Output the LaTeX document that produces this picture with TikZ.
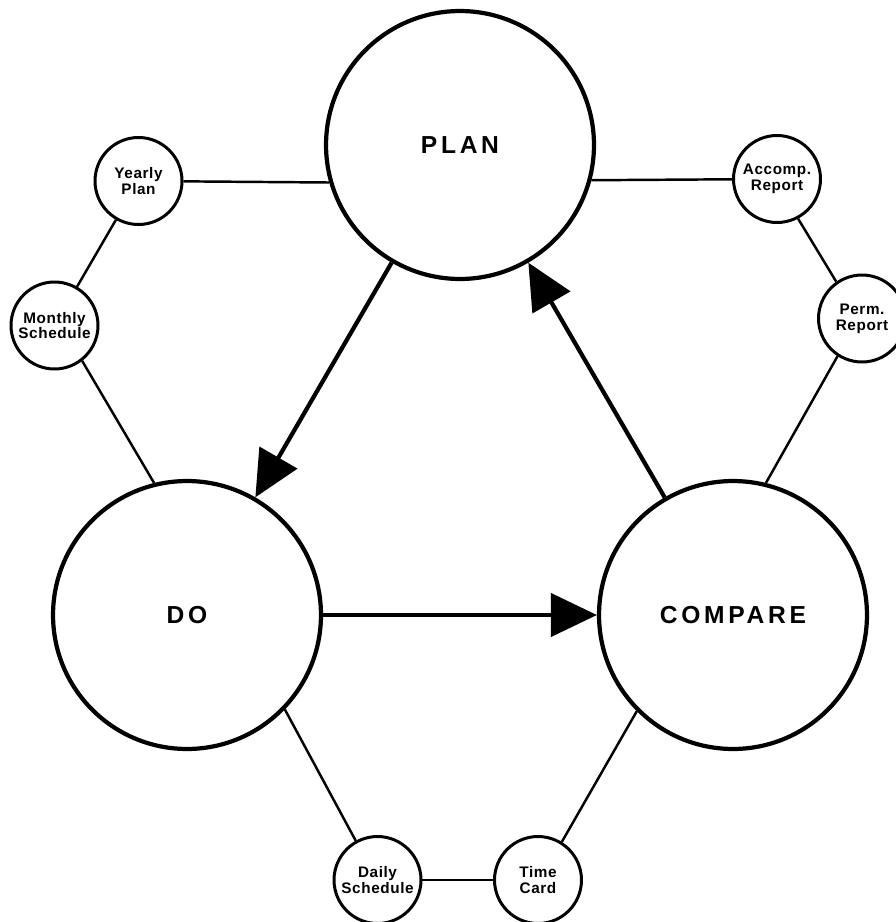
\documentclass[tikz,border=0pt]{standalone}
\usepackage{fontspec}
\setmainfont{Liberation Sans}
\newfontfamily\bigletters[LetterSpace=15]{Liberation Sans}
\newfontfamily\smallletters[LetterSpace=4]{Liberation Sans}
\usetikzlibrary{arrows.meta}

\begin{document}
\begin{tikzpicture}[x=0.02cm,y=-0.02cm,
	big/.style={circle,draw,line width=2.4pt,minimum size=5.36cm,inner sep=0pt,font=\bigletters\bfseries\fontsize{14}{14}\selectfont},
	small/.style={circle,draw,line width=1.7pt,minimum size=1.74cm,inner sep=0pt,align=center,font=\smallletters\bfseries\fontsize{8.7}{9}\selectfont},
	link/.style={line width=1.4pt},
	flow/.style={line width=2.4pt,-{Triangle[length=0.92cm,width=0.86cm]}}]
	\useasboundingbox (0,0) rectangle (895,922);
	\node[big] (plan) at (460,145) {PLAN};
	\node[big] (do) at (187,615) {DO};
	\node[big] (compare) at (733,615) {COMPARE};
	\node[small] (yearly) at (138.5,181) {Yearly\\Plan};
	\node[small] (monthly) at (54.5,325.5) {Monthly\\Schedule};
	\node[small] (accomp) at (777,179) {Accomp.\\Report};
	\node[small] (perm) at (862,318.5) {Perm.\\Report};
	\node[small] (daily) at (377.5,880) {Daily\\Schedule};
	\node[small] (timecard) at (538,880) {Time\\Card};
	\draw[flow] (plan) -- (do);
	\draw[flow] (do) -- (compare);
	\draw[flow] (compare) -- (plan);
	\draw[link] (yearly) -- (plan.196);
	\draw[link] (accomp) -- (plan.345);
	\draw[link] (yearly) -- (monthly);
	\draw[link] (monthly.-52) -- (do.104);
	\draw[link] (do.-44) -- (daily.119);
	\draw[link] (daily) -- (timecard);
	\draw[link] (timecard.58) -- (compare.225);
	\draw[link] (compare.76) -- (perm.237);
	\draw[link] (accomp.-62) -- (perm.125);
\end{tikzpicture}
\end{document}
